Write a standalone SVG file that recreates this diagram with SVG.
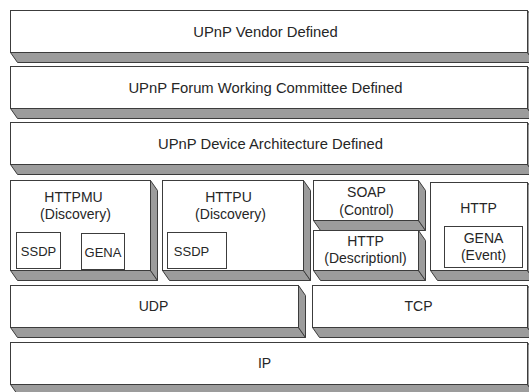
<svg xmlns="http://www.w3.org/2000/svg" width="529" height="392" viewBox="0 0 529 392">
<style>
.front{fill:#ffffff;stroke:#3c3c3c;stroke-width:1}
.shade{fill:#9c9c9c;stroke:#3c3c3c;stroke-width:1;stroke-linejoin:round}
.inner{fill:#ffffff;stroke:#3c3c3c;stroke-width:1}
text{font-family:"Liberation Sans",Arial,sans-serif;font-size:14px;fill:#262626;text-anchor:middle}
.big{font-size:14.8px}
.sm{font-size:13px}
</style>
<rect width="529" height="392" fill="#ffffff"/>
<g transform="translate(0.5 0.5)">
<g id="vendor">
<polygon class="shade" points="10,52 527,52 534,62 17,62"/>
<polygon class="shade" points="527,10 534,20 534,62 527,52"/>
<rect class="front" x="10" y="10" width="517" height="42"/>
<text class="big" x="265" y="36">UPnP Vendor Defined</text>
</g>
<g id="forum">
<polygon class="shade" points="10,108 527,108 534,118 17,118"/>
<polygon class="shade" points="527,66 534,76 534,118 527,108"/>
<rect class="front" x="10" y="66" width="517" height="42"/>
<text class="big" x="265" y="92">UPnP Forum Working Committee Defined</text>
</g>
<g id="device-arch">
<polygon class="shade" points="10,164 527,164 534,174 17,174"/>
<polygon class="shade" points="527,122 534,132 534,174 527,164"/>
<rect class="front" x="10" y="122" width="517" height="42"/>
<text class="big" x="270" y="148">UPnP Device Architecture Defined</text>
</g>
<g id="httpmu">
<polygon class="shade" points="10,270 150,270 157,280 17,280"/>
<polygon class="shade" points="150,180 157,190 157,280 150,270"/>
<rect class="front" x="10" y="180" width="140" height="90"/>
<text x="73" y="201">HTTPMU</text>
<text x="75" y="218">(Discovery)</text>
<g id="httpmu-ssdp">
<rect class="inner" x="16" y="232" width="44" height="36"/>
<text class="sm" x="38" y="255">SSDP</text>
</g>
<g id="httpmu-gena">
<rect class="inner" x="81" y="233" width="43" height="36"/>
<text class="sm" x="102.5" y="256">GENA</text>
</g>
</g>
<g id="httpu">
<polygon class="shade" points="162,270 303,270 310,280 169,280"/>
<polygon class="shade" points="303,180 310,190 310,280 303,270"/>
<rect class="front" x="162" y="180" width="141" height="90"/>
<text x="228" y="201">HTTPU</text>
<text x="230" y="218">(Discovery)</text>
<g id="httpu-ssdp">
<rect class="inner" x="167" y="232" width="59" height="36"/>
<text class="sm" x="191" y="255">SSDP</text>
</g>
</g>
<g id="soap">
<polygon class="shade" points="313,220 418,220 425,230 320,230"/>
<polygon class="shade" points="418,180 425,190 425,230 418,220"/>
<rect class="front" x="313" y="180" width="105" height="40"/>
<text x="366" y="196">SOAP</text>
<text x="366" y="214">(Control)</text>
</g>
<g id="http-description">
<polygon class="shade" points="313,270 418,270 425,280 320,280"/>
<polygon class="shade" points="418,230 425,240 425,280 418,270"/>
<rect class="front" x="313" y="230" width="105" height="40"/>
<text x="365" y="245">HTTP</text>
<text x="365" y="262">(Descriptionl)</text>
</g>
<g id="http">
<polygon class="shade" points="430,270 527,270 534,280 437,280"/>
<polygon class="shade" points="527,182 534,192 534,280 527,270"/>
<rect class="front" x="430" y="182" width="97" height="88"/>
<text x="478" y="212">HTTP</text>
<g id="http-gena">
<rect class="inner" x="444" y="226" width="78" height="41"/>
<text x="483" y="242">GENA</text>
<text x="483" y="259">(Event)</text>
</g>
</g>
<g id="udp">
<polygon class="shade" points="10,327 298,327 305,337 17,337"/>
<polygon class="shade" points="298,285 305,295 305,337 298,327"/>
<rect class="front" x="10" y="285" width="288" height="42"/>
<text x="153" y="310">UDP</text>
</g>
<g id="tcp">
<polygon class="shade" points="312,327 527,327 534,337 319,337"/>
<polygon class="shade" points="527,285 534,295 534,337 527,327"/>
<rect class="front" x="312" y="285" width="215" height="42"/>
<text x="418" y="310">TCP</text>
</g>
<g id="ip">
<polygon class="shade" points="10,384 527,384 534,394 17,394"/>
<polygon class="shade" points="527,342 534,352 534,394 527,384"/>
<rect class="front" x="10" y="342" width="517" height="42"/>
<text x="264" y="367">IP</text>
</g>
<g id="connectors"/>
</g>
</svg>
